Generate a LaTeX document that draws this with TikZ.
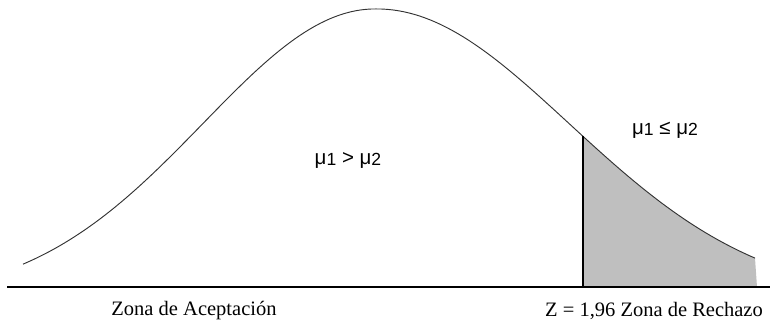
\documentclass[tikz,border=0pt]{standalone}
\usepackage{fontspec}
\setmainfont{Liberation Serif}
\newfontfamily\musans{Liberation Sans}
\newcommand{\mui}[1]{μ\raisebox{-1.5pt}{\fontsize{15}{15}\selectfont #1}}
\begin{document}
\begin{tikzpicture}[x=0.03cm, y=-0.03cm,
  declare function={izq(\t)=300-291*exp(-0.5*((\t-375)/172)^2);
                    der(\t)=300-291*exp(-0.5*((\t-377)/192)^2);},
  curva/.style={draw=black!80, line width=0.8pt},
  zona/.style={fill=black!25},
  hipo/.style={font=\musans\fontsize{17.5}{20}\selectfont},
  rotulo/.style={font=\fontsize{17.5}{20}\selectfont}]
\useasboundingbox (0,0) rectangle (770,327);
\fill[zona] (583,287) -- plot[domain=583:755, samples=40] (\x, {der(\x)}) -- (757,287) -- cycle;
\draw[curva] plot[domain=23:376, samples=70] (\x, {izq(\x)})
  -- plot[domain=376:755, samples=70] (\x, {der(\x)});
\coordinate (eje izq) at (7,287);
\coordinate (eje der) at (770,287);
\coordinate (z arriba) at (583, {der(583)});
\coordinate (z abajo) at (583,288);
\draw[line width=1.2pt] (eje izq) -- (eje der);
\draw[line width=1.5pt] (z arriba) -- (z abajo);
\node[hipo] (mayor) at (348,160) {\mui{1} > \mui{2}};
\node[hipo] (menor) at (665,130) {\mui{1} ≤ \mui{2}};
\node[rotulo] (aceptacion) at (194,311) {Zona de Aceptación};
\node[rotulo] (rechazo) at (654,311) {Z = 1,96 Zona de Rechazo};
\end{tikzpicture}
\end{document}
